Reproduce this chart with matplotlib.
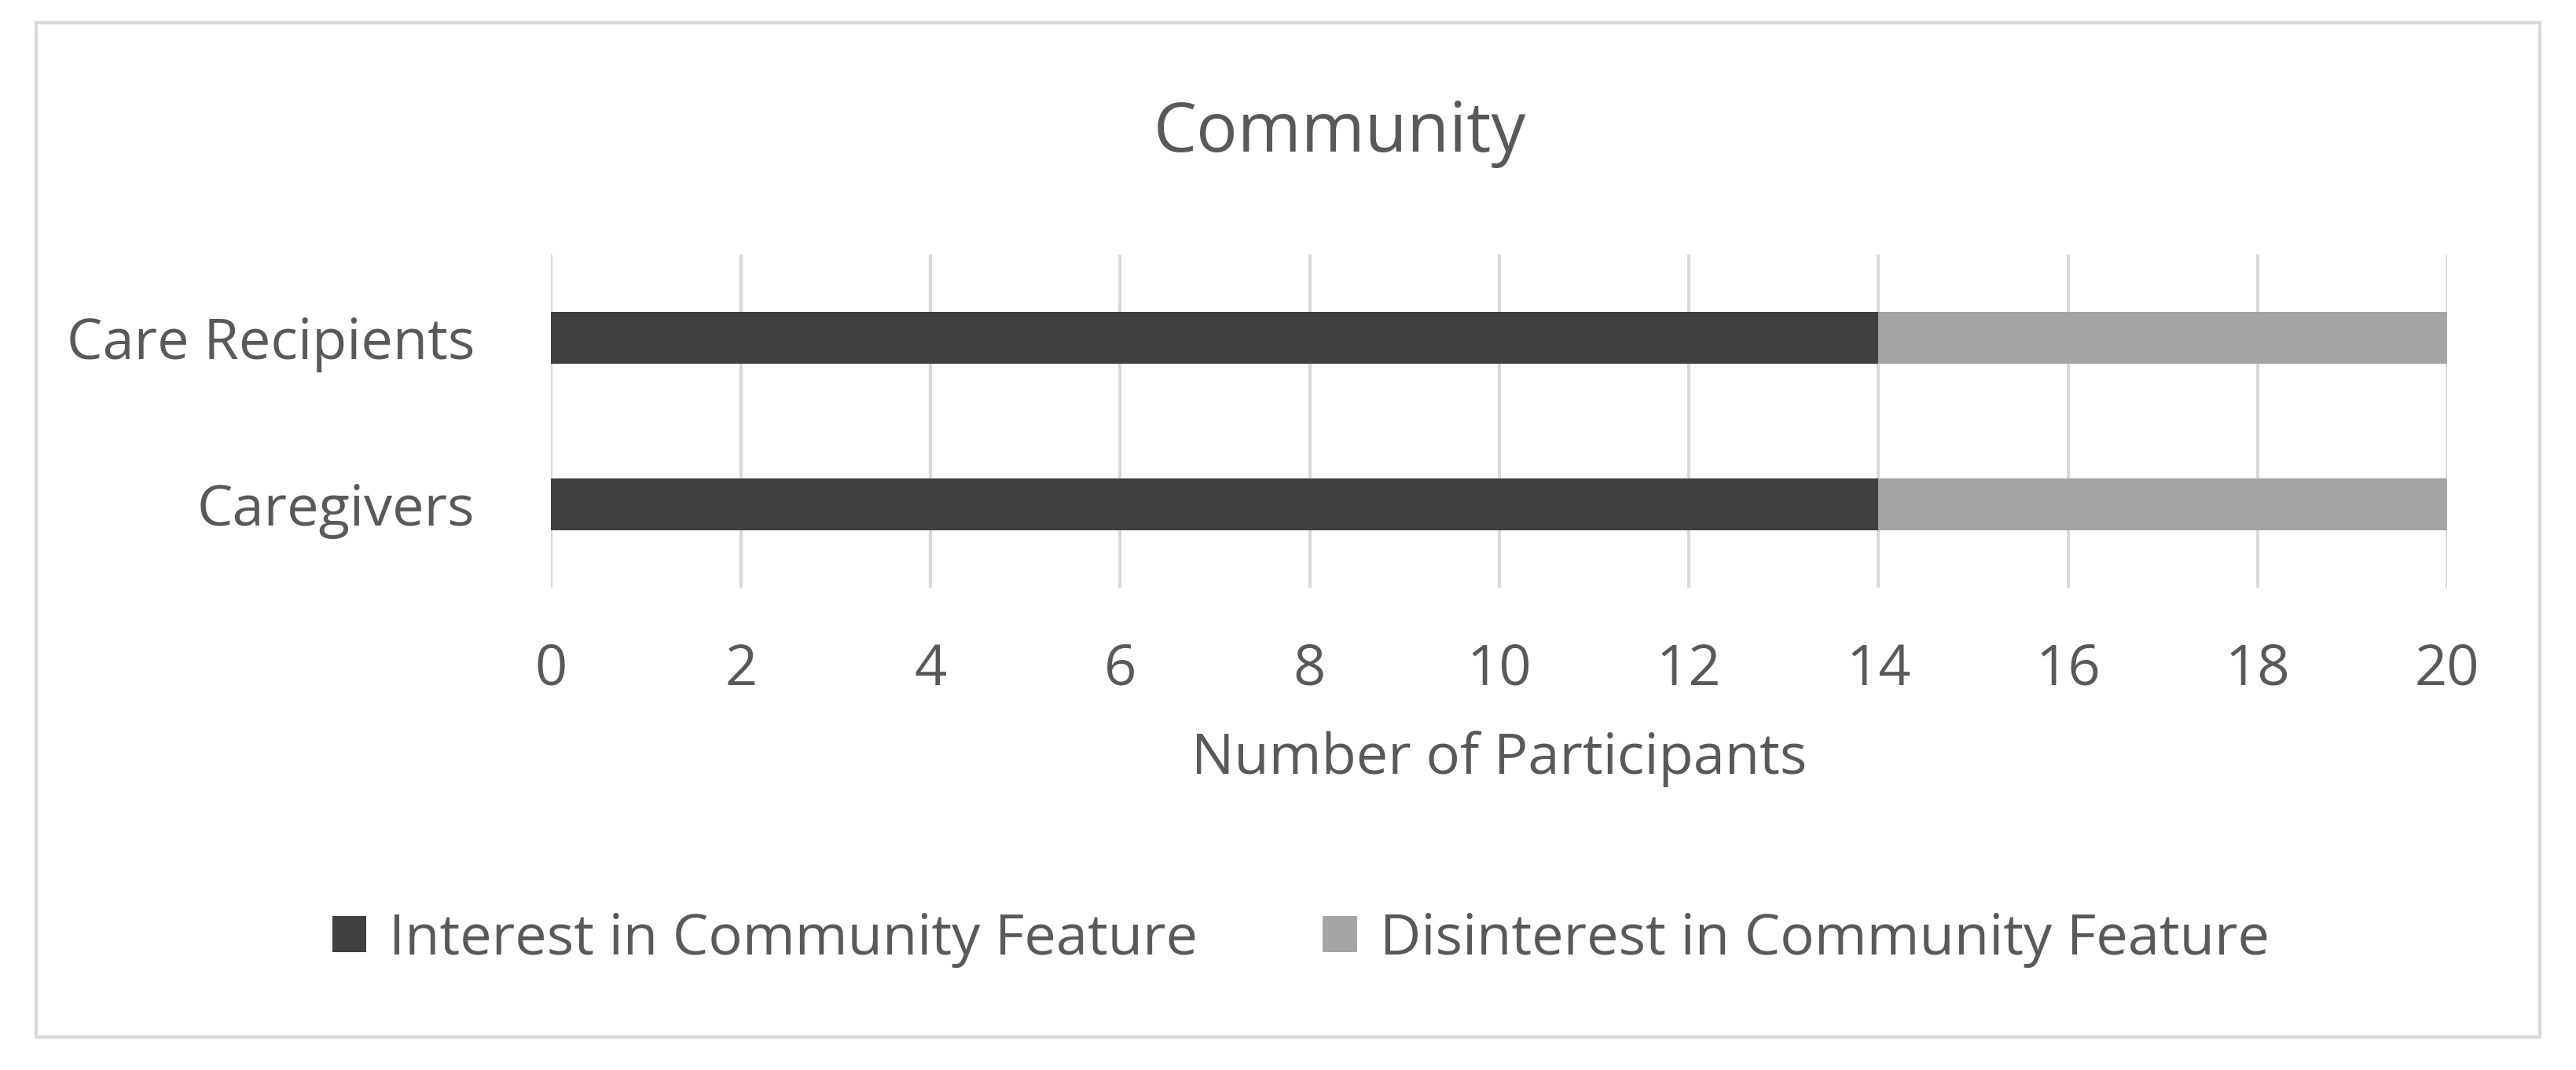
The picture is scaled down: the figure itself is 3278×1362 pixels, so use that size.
import matplotlib
matplotlib.use('Agg')
import matplotlib.pyplot as plt
from matplotlib.patches import Rectangle

categories = ['Caregivers', 'Care Recipients']
interest = [14, 14]
disinterest = [6, 6]
xticks = [0, 2, 4, 6, 8, 10, 12, 14, 16, 18, 20]

TXT = '#595959'
plt.rcParams['font.family'] = ['Open Sans', 'DejaVu Sans']

fig = plt.figure(figsize=(32.78, 13.62), dpi=100)
fig.patches.append(Rectangle((0.014, 0.031), 0.972, 0.948, transform=fig.transFigure,
                             fill=False, edgecolor='#D9D9D9', linewidth=3))
ax = fig.add_axes([0.214, 0.451, 0.736, 0.311])

y = range(len(categories))
ax.barh(y, interest, height=0.31, color='#404040', label='Interest in Community Feature', zorder=3)
ax.barh(y, disinterest, left=interest, height=0.31, color='#A5A5A5',
        label='Disinterest in Community Feature', zorder=3)

ax.set_xlim(0, 20)
ax.set_ylim(-0.5, 1.5)
ax.set_xticks(xticks)
ax.set_yticks(list(y))
ax.set_yticklabels(categories)
ax.grid(axis='x', color='#D9D9D9', linewidth=3, zorder=0)
for s in ax.spines.values():
    s.set_visible(False)
ax.tick_params(axis='x', length=0, labelsize=52, colors=TXT, pad=50)
ax.tick_params(axis='y', length=0, labelsize=52, colors=TXT, pad=70)
ax.set_xlabel('Number of Participants', fontsize=52, color=TXT, labelpad=30)
fig.text(0.52, 0.875, 'Community', ha='center', va='center', fontsize=63, color=TXT)

fig.legend(loc='center', bbox_to_anchor=(0.505, 0.122), ncol=2, frameon=False,
           fontsize=52, labelcolor=TXT, handlelength=0.6, handleheight=0.6,
           columnspacing=2.2, handletextpad=0.4)

fig.savefig('out.png', dpi=100)
